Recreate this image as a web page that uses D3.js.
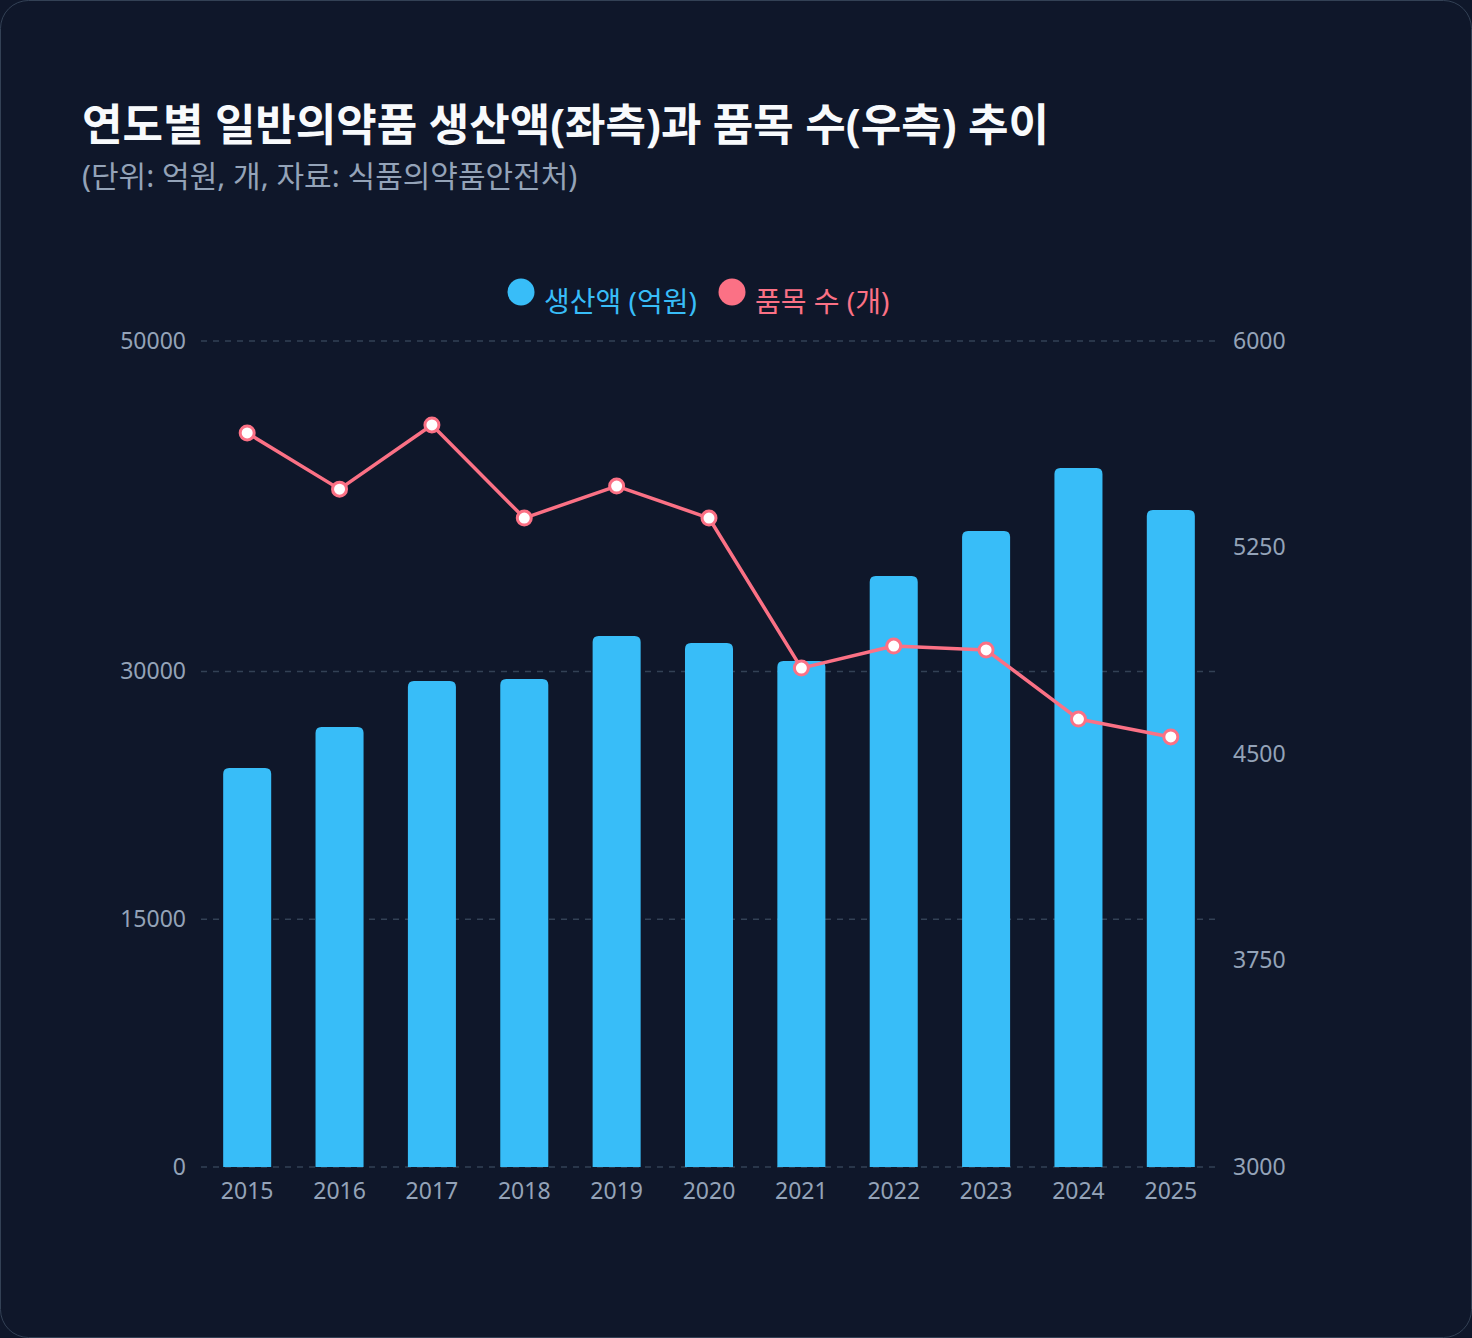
<!DOCTYPE html>
<html>
<head>
<meta charset="utf-8">
<script src="https://cdn.jsdelivr.net/npm/d3@7"></script>
<style>
  html, body { margin: 0; padding: 0; background: #0f172a; }
  body { width: 1472px; height: 1338px; overflow: hidden; }
  text { font-family: "Noto Sans", "Noto Sans CJK KR", sans-serif; }
</style>
</head>
<body>
<svg id="chart" width="1472" height="1338"></svg>
<script>
// data
const years = ["2015", "2016", "2017", "2018", "2019", "2020", "2021", "2022", "2023", "2024", "2025"];
const production = [24150, 26630, 29420, 29540, 32140, 31720, 30630, 35780, 38500, 42310, 39770]; // 억원
const itemCount = [5666, 5462, 5695, 5357, 5473, 5357, 4812, 4892, 4878, 4627, 4562]; // 개
const leftTicks = [0, 15000, 30000, 50000];
const rightTicks = [3000, 3750, 4500, 5250, 6000];

const svg = d3.select("#chart");

// card
svg.append("rect")
    .attr("x", 0.5).attr("y", 0.5)
    .attr("width", 1471).attr("height", 1337)
    .attr("rx", 28)
    .attr("fill", "#0f172a")
    .attr("stroke", "#334155")
    .attr("stroke-width", 1);

// title
svg.append("text")
    .attr("x", 82).attr("y", 141)
    .attr("font-size", 44).attr("font-weight", 700)
    .attr("fill", "#f8fafc")
    .text("연도별 일반의약품 생산액(좌측)과 품목 수(우측) 추이");

svg.append("text")
    .attr("x", 82).attr("y", 187)
    .attr("font-size", 30)
    .attr("fill", "#94a3b8")
    .text("(단위: 억원, 개, 자료: 식품의약품안전처)");

// scales
const plot = { left: 201, right: 1217, top: 341, bottom: 1167 };

const x = d3.scaleBand()
    .domain(years)
    .range([plot.left, plot.right])
    .paddingInner(0.48)
    .paddingOuter(0.24);

const yLeft = d3.scaleLinear()
    .domain([0, 50000])
    .range([plot.bottom, plot.top]);

const yRight = d3.scaleLinear()
    .domain([3000, 6000])
    .range([plot.bottom, plot.top]);

// gridlines
svg.append("g")
    .selectAll("line")
    .data(leftTicks)
    .join("line")
    .attr("x1", plot.left).attr("x2", plot.right)
    .attr("y1", d => yLeft(d)).attr("y2", d => yLeft(d))
    .attr("stroke", "#334155")
    .attr("stroke-width", 1.5)
    .attr("stroke-dasharray", "6 6");

// bars with rounded top
const r = 6;
const bw = x.bandwidth();
svg.append("g")
    .selectAll("path")
    .data(years)
    .join("path")
    .attr("d", (d, i) => {
        const x0 = x(d), y0 = yLeft(production[i]), y1 = yLeft(0);
        return `M${x0},${y1}V${y0 + r}Q${x0},${y0} ${x0 + r},${y0}H${x0 + bw - r}Q${x0 + bw},${y0} ${x0 + bw},${y0 + r}V${y1}Z`;
    })
    .attr("fill", "#38bdf8");

// line
const line = d3.line()
    .x((d, i) => x(years[i]) + bw / 2)
    .y(d => yRight(d));

svg.append("path")
    .datum(itemCount)
    .attr("d", line)
    .attr("fill", "none")
    .attr("stroke", "#fb7185")
    .attr("stroke-width", 3.5)
    .attr("stroke-linejoin", "round");

svg.append("g")
    .selectAll("circle")
    .data(itemCount)
    .join("circle")
    .attr("cx", (d, i) => x(years[i]) + bw / 2)
    .attr("cy", d => yRight(d))
    .attr("r", 7)
    .attr("fill", "#ffffff")
    .attr("stroke", "#fb7185")
    .attr("stroke-width", 3);

// axes
const axisLeft = svg.append("g")
    .attr("transform", `translate(${plot.left},0)`)
    .call(d3.axisLeft(yLeft).tickValues(leftTicks).tickSize(0).tickPadding(15).tickFormat(d3.format("d")));

const axisRight = svg.append("g")
    .attr("transform", `translate(${plot.right},0)`)
    .call(d3.axisRight(yRight).tickValues(rightTicks).tickSize(0).tickPadding(16).tickFormat(d3.format("d")));

const axisBottom = svg.append("g")
    .attr("transform", `translate(0,${plot.bottom})`)
    .call(d3.axisBottom(x).tickSize(0).tickPadding(16));

[axisLeft, axisRight, axisBottom].forEach(a => {
    a.select(".domain").remove();
    a.selectAll("text")
        .attr("fill", "#94a3b8")
        .attr("font-size", 23)
        .style("font-family", "'Noto Sans', 'Noto Sans CJK KR', sans-serif");
});

// legend
const legendItems = [
    { label: "생산액 (억원)", color: "#38bdf8", x: 521 },
    { label: "품목 수 (개)", color: "#fb7185", x: 732 }
];

const legend = svg.append("g")
    .selectAll("g")
    .data(legendItems)
    .join("g")
    .attr("transform", d => `translate(${d.x},292)`);

legend.append("circle")
    .attr("r", 13.5)
    .attr("fill", d => d.color);

legend.append("text")
    .attr("x", 23)
    .attr("y", 20)
    .attr("font-size", 28)
    .attr("fill", d => d.color)
    .text(d => d.label);
</script>
</body>
</html>
